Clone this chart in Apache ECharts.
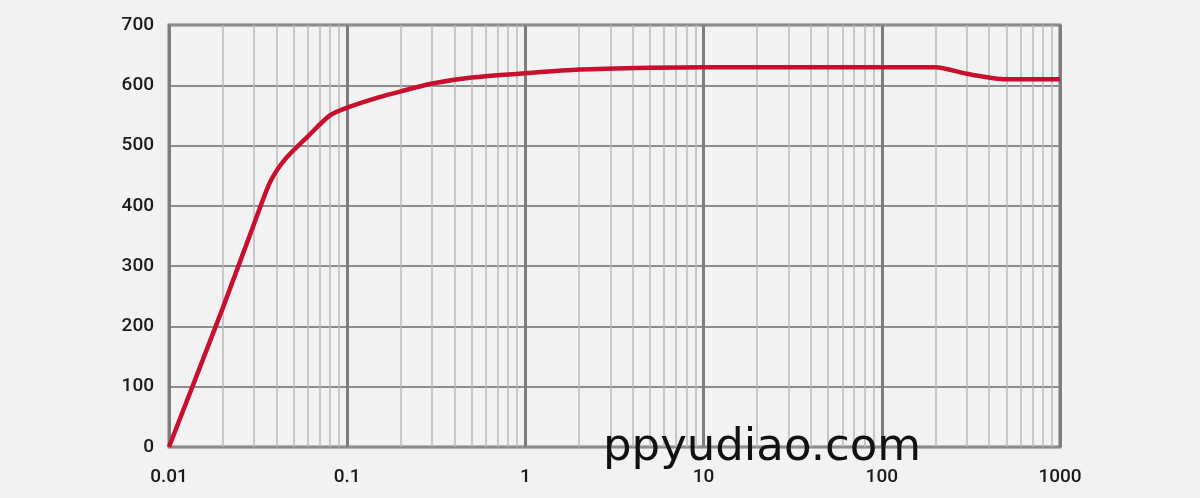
<!DOCTYPE html>
<html>
<head>
<meta charset="utf-8">
<script src="https://cdn.jsdelivr.net/npm/echarts@6/dist/echarts.min.js"></script>
<style>
html,body{margin:0;padding:0;background:#f2f2f2;}
#c{width:1200px;height:498px;}
</style>
</head>
<body>
<div id="c"></div>
<script>
// Data
const xValues = [0.01, 0.02, 0.03, 0.037, 0.045, 0.06, 0.08, 0.1, 0.15, 0.2, 0.3, 0.5, 1, 2, 5, 10, 200, 300, 500, 1000];
const yValues = [0, 230, 370, 440, 478, 515, 550, 563, 580, 590, 603, 613, 620, 626, 629, 630, 630, 619, 610, 610];
const xTickLabels = ['0.01', '0.1', '1', '10', '100', '1000'];
const yTicks = [0, 100, 200, 300, 400, 500, 600, 700];

// minor decade grid positions (2..9 within each decade)
const minorX = [];
for (let d = -2; d < 3; d++) {
  for (let k = 2; k <= 9; k++) minorX.push(k * Math.pow(10, d));
}

const chart = echarts.init(document.getElementById('c'));
chart.setOption({
  backgroundColor: '#f2f2f2',
  animation: false,
  grid: {left: 169, right: 140, top: 25, bottom: 51, show: true, borderColor: '#7d7d7d', borderWidth: 3, backgroundColor: 'transparent'},
  xAxis: {
    type: 'log', logBase: 10, min: 0.01, max: 1000,
    axisLine: {show: false},
    axisTick: {show: false},
    splitLine: {show: true, lineStyle: {color: '#7d7d7d', width: 3}},
    axisLabel: {
      margin: 21, fontSize: 19, fontWeight: 500, color: '#1a1a1a', fontFamily: 'Roboto',
      formatter: function (v) {
        const i = Math.round(Math.log10(v)) + 2;
        return xTickLabels[i] !== undefined ? xTickLabels[i] : '';
      }
    }
  },
  yAxis: {
    type: 'value', min: 0, max: 700, interval: 100,
    axisLine: {show: false},
    axisTick: {show: false},
    splitLine: {show: true, lineStyle: {color: '#8c8c8c', width: 2}},
    axisLabel: {margin: 15, fontSize: 19, fontWeight: 500, color: '#1a1a1a', fontFamily: 'Roboto',
      formatter: function (v) { return yTicks.indexOf(v) >= 0 ? String(v) : ''; }}
  },
  series: [
    {
      type: 'line', data: [], silent: true, z: 1,
      markLine: {
        silent: true, symbol: 'none', label: {show: false},
        lineStyle: {color: '#b9b9b9', width: 1.5, type: 'solid'},
        data: minorX.map(v => ({xAxis: v}))
      }
    },
    {
      type: 'line', z: 5,
      data: xValues.map((x, i) => [x, yValues[i]]),
      showSymbol: false, smooth: 0.25,
      lineStyle: {color: '#c8102e', width: 4.5},
      itemStyle: {color: '#c8102e'}
    }
  ],
  graphic: [{
    type: 'text', left: 603, top: 426, z: 100,
    style: {text: 'ppyudiao.com', font: '45px "DejaVu Sans"', fill: '#111111'}
  }]
});
</script>
</body>
</html>
